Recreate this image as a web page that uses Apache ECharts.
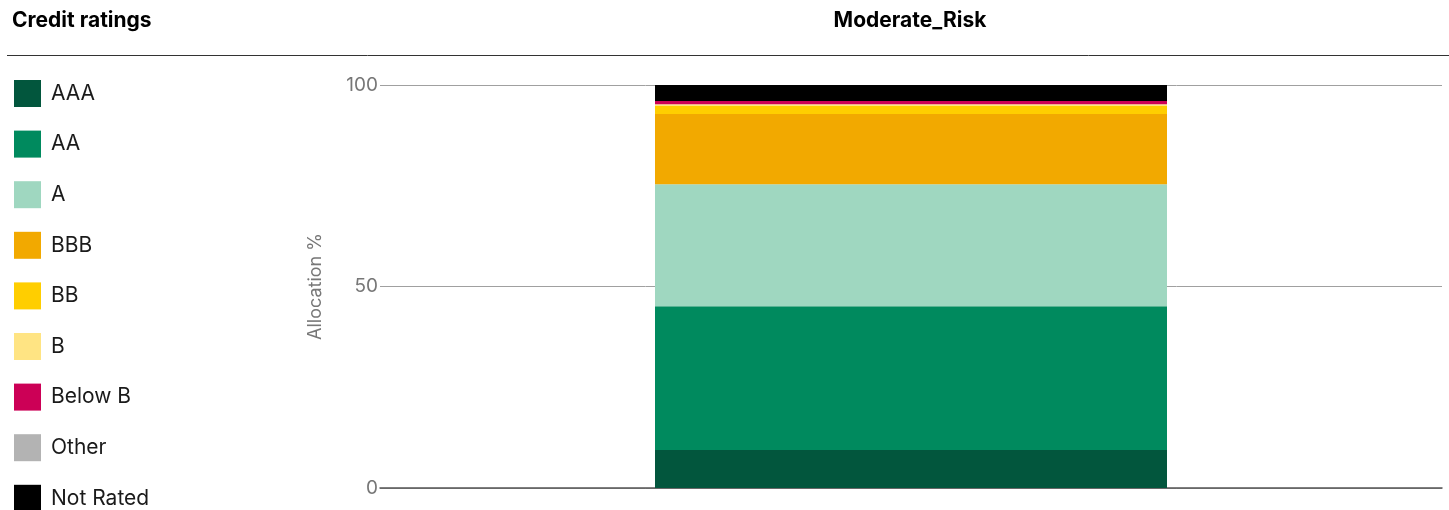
<!DOCTYPE html>
<html><head><meta charset="utf-8">
<script src="https://cdn.jsdelivr.net/npm/echarts@6/dist/echarts.min.js"></script>
<style>html,body{margin:0;padding:0;background:#fff}#c{width:1449px;height:510px}</style>
</head><body><div id="c"></div>
<script>
const categories = ['Moderate_Risk'];
const ratings = ['AAA','AA','A','BBB','BB','B','Below B','Other','Not Rated'];
const values = [9.4, 35.7, 30.3, 17.4, 2.1, 0.35, 0.8, 0, 4.0];
const colors = ['#02563d','#008a5e','#9fd7c0','#f2a900','#ffce00','#ffe483','#cc0056','#b3b3b3','#000000'];
const yTicks = [0, 50, 100];

const FONT = 'Inter, "Noto Sans", sans-serif';
const legendText = {fontFamily:FONT,fontSize:21,color:'#1a1a1a',padding:[0,0,0,5]};
const chart = echarts.init(document.getElementById('c'), null, {renderer:'canvas'});
chart.setOption({
  animation:false,
  textStyle:{fontFamily:FONT},
  title:[
    {text:'Credit ratings', left:12, top:10, padding:0, textStyle:{fontFamily:FONT,fontSize:21,fontWeight:'bold',color:'#000'}},
    {text:categories[0], left:910, top:10, padding:0, textAlign:'center', textStyle:{fontFamily:FONT,fontSize:21,fontWeight:'bold',color:'#000'}}
  ],
  graphic:[{type:'line', shape:{x1:7,y1:55.5,x2:1449,y2:55.5}, style:{stroke:'#333',lineWidth:1}}],
  legend:[{
    orient:'vertical', left:14, top:80, padding:0, itemWidth:27, itemHeight:27, itemGap:23.6,
    icon:'rect', data:ratings.slice(0,8), selectedMode:false, textStyle:legendText
  },{
    orient:'vertical', left:14, top:484.8, padding:0, itemWidth:27, itemHeight:27,
    icon:'rect', data:ratings.slice(8), selectedMode:false, textStyle:legendText
  }],
  grid:{left:380, right:7, top:85, bottom:22, containLabel:false},
  xAxis:{type:'category', data:categories, axisTick:{show:false}, axisLabel:{show:false},
    axisLine:{show:true, lineStyle:{color:'#555',width:1.5}}},
  yAxis:{type:'value', min:yTicks[0], max:yTicks[2], interval:50,
    name:'Allocation %', nameLocation:'middle', nameGap:55, nameRotate:90,
    nameTextStyle:{fontFamily:FONT,fontSize:18,color:'#777'},
    axisLine:{show:false}, axisTick:{show:false},
    axisLabel:{margin:2, fontFamily:FONT, fontSize:19, color:'#777'},
    splitLine:{lineStyle:{color:'#a0a0a0',width:1}}},
  series: ratings.map((r,i)=>({
    name:r, type:'bar', stack:'total', barWidth:512, data:[values[i]],
    itemStyle:{color:colors[i]}, emphasis:{disabled:true}
  }))
});
</script></body></html>
